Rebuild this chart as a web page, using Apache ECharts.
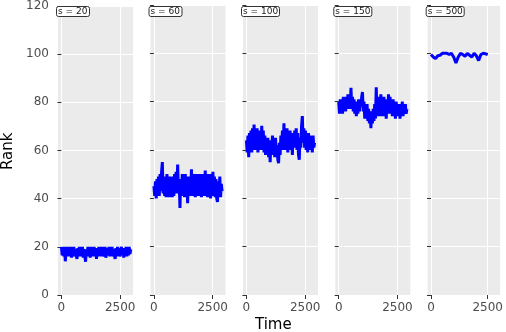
<!DOCTYPE html>
<html>
<head>
<meta charset="utf-8">
<script src="https://cdn.jsdelivr.net/npm/echarts@6/dist/echarts.min.js"></script>
<style>
  html, body { margin: 0; padding: 0; background: #fff; }
  #chart { width: 506px; height: 332px; }
</style>
</head>
<body>
<div id="chart"></div>
<script>
// facet labels
const panels = ['s = 20', 's = 60', 's = 100', 's = 150', 's = 500'];
// last time step of each run
const endTimes = [2950, 2900, 2900, 2900, 2500];

// rank over time
const rank20 = [20, 16.5, 19.5, 16, 20, 14, 19, 16.5, 20, 16,
    19.5, 16.5, 20, 15.5, 19.5, 17, 20, 16, 19, 16.5,
    15, 19.5, 16.5, 20, 16, 19.5, 16.5, 20, 15.5, 19,
    16.5, 13.8, 19, 16, 20, 16.5, 19.5, 15.5, 20, 17,
    19.5, 16, 20, 16.5, 19, 15, 19.5, 16.5, 20, 16,
    19.5, 16.5, 20, 16, 19, 16.5, 20, 15.5, 15.5, 19.5,
    16.5, 20, 16, 19.5, 16.5, 20, 16, 19, 16.5, 15,
    19.5, 16, 20, 16.5, 19.5, 16, 15.8, 20, 16.5, 19.5,
    15.5, 19, 16.5, 20, 16, 19.5, 16.5, 20, 17, 19];
const rank60 = [45, 41, 47, 40, 48, 42, 49, 41, 50, 43,
    51, 55, 42, 49, 41, 48, 40.5, 50, 42, 48,
    40.5, 49, 43, 47, 40.5, 49, 41, 50, 44, 51,
    42, 54, 43, 47, 36, 48, 41, 50, 42, 49,
    40.5, 50, 41, 47, 38, 49, 41, 48, 42, 52,
    41, 49, 43, 50, 40.5, 48, 42, 50, 41, 49,
    43, 50, 40.5, 48, 42, 50, 41, 51.5, 42, 49,
    40.5, 50, 43, 48, 40, 50, 41, 51, 42, 49,
    40.5, 48, 40, 38.5, 47, 41, 49, 40.5, 46, 43];
const rank100 = [64, 59, 66, 57, 67, 60, 68, 59, 69, 61,
    70.5, 60, 67, 62, 69, 59, 68, 61, 66, 60,
    70, 61, 68, 59, 66, 58, 64, 60, 65, 57,
    62, 55, 64, 58, 66, 59, 63, 57, 65, 58,
    62, 56, 54.5, 63, 58, 66, 60, 68, 61, 71,
    60, 67, 62, 69, 59, 67, 61, 68, 60, 66,
    58, 67, 61, 68, 62, 69, 60, 67, 58, 56,
    65, 61, 70, 74, 63, 69, 61, 68, 60, 66,
    59, 67, 61, 66, 60, 65, 59, 66, 61, 63];
const rank150 = [80, 75, 81, 76, 80, 75, 82, 77, 81, 76,
    82, 78, 83, 77, 81, 78, 85.7, 77, 82, 76,
    81, 75, 80, 74, 79, 75, 81, 76, 80, 78,
    82, 84, 76, 80, 73, 78, 74, 79, 72, 77,
    71, 76, 69, 75, 71, 77, 72, 79, 73, 86,
    74, 81, 75, 82, 74, 83, 76, 80, 74, 82,
    75, 81, 73, 80, 76, 83, 75, 82, 77, 80,
    74, 81, 76, 79, 73, 80, 75, 79, 74, 78,
    73, 79, 75, 80, 74, 78, 76, 79, 75, 77];
const rank500 = [99.5, 98.5, 97.8, 99, 99.2, 100, 100, 100, 99.6, 100, 98.5, 96, 98.5, 100, 99.5,
    98.8, 100, 99.2, 98.5, 100, 99, 97, 99.5, 100, 99.8, 99.5];

const rankTicks = [0, 20, 40, 60, 80, 100, 120];
const timeTicks = [0, 2500];

const allRanks = [rank20, rank60, rank100, rank150, rank500];

const panelLefts = [58, 150.5, 243, 335.3, 427.7];
const panelWidth = 75;

const chart = echarts.init(document.getElementById('chart'), null, { renderer: 'canvas' });

const grids = panelLefts.map(left => ({
    left: left,
    top: 5,
    width: panelWidth,
    height: 290,
    show: true,
    backgroundColor: '#ebebeb',
    borderWidth: 0,
    containLabel: false
}));

const xAxes = panelLefts.map((_, i) => ({
    gridIndex: i,
    type: 'value',
    min: -145,
    max: 3045,
    axisLine: { show: false },
    axisTick: { show: true, length: 4, customValues: timeTicks, lineStyle: { color: '#333' } },
    axisLabel: {
        customValues: timeTicks,
        formatter: v => String(v),
        color: '#4d4d4d',
        fontSize: 12,
        margin: 7,
        fontFamily: 'DejaVu Sans'
    },
    splitLine: { show: true, customValues: timeTicks, lineStyle: { color: '#fff', width: 1 } }
}));

const yAxes = panelLefts.map((_, i) => ({
    gridIndex: i,
    type: 'value',
    min: rankTicks[0],
    max: rankTicks[rankTicks.length - 1],
    interval: 20,
    axisLine: { show: false },
    axisTick: { show: true, length: 4, lineStyle: { color: '#333' } },
    axisLabel: { show: i === 0, color: '#4d4d4d', fontSize: 12, margin: 9, fontFamily: 'DejaVu Sans' },
    splitLine: { show: true, lineStyle: { color: '#fff', width: 1 } }
}));

const series = allRanks.map((vals, i) => {
    const step = endTimes[i] / (vals.length - 1);
    return {
        type: 'line',
        xAxisIndex: i,
        yAxisIndex: i,
        showSymbol: false,
        animation: false,
        lineStyle: { color: '#0000ff', width: 3 },
        data: vals.map((v, k) => [k * step, v])
    };
});

const titles = panels.map((txt, i) => ({
    text: txt,
    left: panelLefts[i] - 2,
    top: 6,
    padding: [1, 2],
    backgroundColor: '#fff',
    borderColor: '#333',
    borderWidth: 1,
    borderRadius: 2,
    textStyle: { fontSize: 9, fontWeight: 'normal', color: '#1a1a1a', fontFamily: 'DejaVu Sans' }
}));

chart.setOption({
    animation: false,
    title: titles,
    grid: grids,
    xAxis: xAxes,
    yAxis: yAxes,
    series: series,
    graphic: [
        {
            type: 'text',
            left: 255,
            top: 318,
            style: { text: 'Time', fontSize: 15, fill: '#000', fontFamily: 'DejaVu Sans' }
        },
        {
            type: 'text',
            x: 1,
            y: 170,
            rotation: Math.PI / 2,
            style: { text: 'Rank', fontSize: 15, fill: '#000', fontFamily: 'DejaVu Sans' }
        }
    ]
});
</script>
</body>
</html>
